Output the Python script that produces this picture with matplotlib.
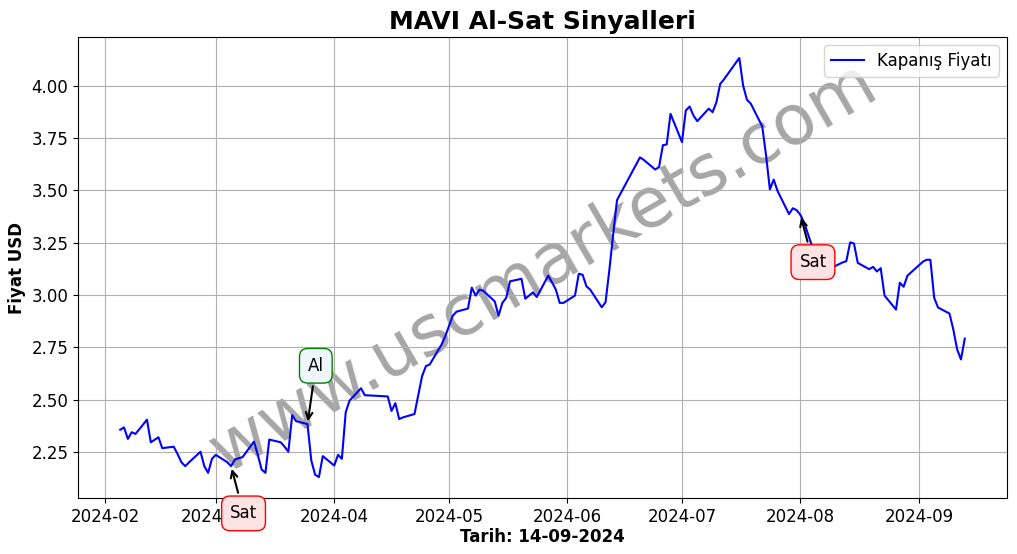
import matplotlib
matplotlib.use("Agg")
import matplotlib.pyplot as plt
import matplotlib.dates as mdates
import pandas as pd

dates = [
    "2024-02-05", "2024-02-06", "2024-02-07", "2024-02-08", "2024-02-09",
    "2024-02-12", "2024-02-13", "2024-02-14", "2024-02-15", "2024-02-16",
    "2024-02-19", "2024-02-20", "2024-02-21", "2024-02-22", "2024-02-23",
    "2024-02-26", "2024-02-27", "2024-02-28", "2024-02-29", "2024-03-01",
    "2024-03-04", "2024-03-05", "2024-03-06", "2024-03-07", "2024-03-08",
    "2024-03-11", "2024-03-12", "2024-03-13", "2024-03-14", "2024-03-15",
    "2024-03-18", "2024-03-19", "2024-03-20", "2024-03-21", "2024-03-22",
    "2024-03-25", "2024-03-26", "2024-03-27", "2024-03-28", "2024-03-29",
    "2024-04-01", "2024-04-02", "2024-04-03", "2024-04-04", "2024-04-05",
    "2024-04-08", "2024-04-09", "2024-04-15", "2024-04-16", "2024-04-17",
    "2024-04-18", "2024-04-19", "2024-04-22", "2024-04-24", "2024-04-25",
    "2024-04-26", "2024-04-29", "2024-04-30", "2024-05-02", "2024-05-03",
    "2024-05-06", "2024-05-07", "2024-05-08", "2024-05-09", "2024-05-10",
    "2024-05-13", "2024-05-14", "2024-05-15", "2024-05-16", "2024-05-17",
    "2024-05-20", "2024-05-21", "2024-05-22", "2024-05-23", "2024-05-24",
    "2024-05-27", "2024-05-28", "2024-05-29", "2024-05-30", "2024-05-31",
    "2024-06-03", "2024-06-04", "2024-06-05", "2024-06-06", "2024-06-07",
    "2024-06-10", "2024-06-11", "2024-06-12", "2024-06-13", "2024-06-14",
    "2024-06-20", "2024-06-21", "2024-06-24", "2024-06-25", "2024-06-26",
    "2024-06-27", "2024-06-28", "2024-07-01", "2024-07-02", "2024-07-03",
    "2024-07-04", "2024-07-05", "2024-07-08", "2024-07-09", "2024-07-10",
    "2024-07-11", "2024-07-12", "2024-07-16", "2024-07-17", "2024-07-18",
    "2024-07-19", "2024-07-22", "2024-07-23", "2024-07-24", "2024-07-25",
    "2024-07-26", "2024-07-29", "2024-07-30", "2024-07-31", "2024-08-01",
    "2024-08-02", "2024-08-05", "2024-08-06", "2024-08-07", "2024-08-08",
    "2024-08-09", "2024-08-12", "2024-08-13", "2024-08-14", "2024-08-15",
    "2024-08-16", "2024-08-19", "2024-08-20", "2024-08-21", "2024-08-22",
    "2024-08-23", "2024-08-26", "2024-08-27", "2024-08-28", "2024-08-29",
    "2024-09-02", "2024-09-03", "2024-09-04", "2024-09-05", "2024-09-06",
    "2024-09-09", "2024-09-10", "2024-09-11", "2024-09-12", "2024-09-13",
]

close = [
    2.356, 2.367, 2.312, 2.344, 2.336,
    2.404, 2.296, 2.308, 2.320, 2.268,
    2.275, 2.240, 2.201, 2.182, 2.200,
    2.251, 2.182, 2.150, 2.217, 2.236,
    2.201, 2.182, 2.213, 2.220, 2.225,
    2.299, 2.236, 2.166, 2.150, 2.309,
    2.296, 2.275, 2.251, 2.426, 2.397,
    2.383, 2.209, 2.141, 2.130, 2.230,
    2.185, 2.236, 2.217, 2.439, 2.495,
    2.554, 2.521, 2.515, 2.446, 2.483,
    2.407, 2.415, 2.431, 2.613, 2.660,
    2.668, 2.760, 2.800, 2.900, 2.920,
    2.935, 3.035, 2.997, 3.025, 3.020,
    2.969, 2.901, 2.962, 2.986, 3.065,
    3.077, 2.982, 2.997, 3.012, 2.990,
    3.092, 3.060, 3.025, 2.962, 2.962,
    2.997, 3.101, 3.096, 3.041, 3.025,
    2.941, 2.965, 3.120, 3.290, 3.453,
    3.657, 3.645, 3.599, 3.611, 3.715,
    3.719, 3.865, 3.730, 3.881, 3.900,
    3.857, 3.830, 3.890, 3.873, 3.920,
    4.008, 4.030, 4.132, 4.000, 3.932,
    3.914, 3.805, 3.667, 3.504, 3.551,
    3.497, 3.386, 3.414, 3.405, 3.382,
    3.344, 3.180, 3.160, 3.140, 3.130,
    3.128, 3.155, 3.161, 3.251, 3.246,
    3.153, 3.123, 3.134, 3.112, 3.128,
    2.997, 2.930, 3.058, 3.039, 3.092,
    3.158, 3.168, 3.168, 2.986, 2.940,
    2.911, 2.835, 2.740, 2.692, 2.791,
]

signal_dates = ["2024-03-05", "2024-03-25", "2024-08-01"]
signal_prices = [2.182, 2.383, 3.382]
signal_labels = ["Sat", "Al", "Sat"]

x = pd.to_datetime(dates)

fig = plt.figure(figsize=(10.17, 5.54), dpi=100)
ax = fig.add_axes([78 / 1017, 1 - 498 / 554, (1007 - 78) / 1017, (498 - 37) / 554])

ax.plot(x, close, color="blue", lw=1.5, label="Kapanış Fiyatı")

for d, p, lab in zip(signal_dates, signal_prices, signal_labels):
    if lab == "Al":
        off = (6, 42)
        bbox = dict(boxstyle="round,pad=0.5", fc="#eef6fc", ec="green")
    else:
        off = (9, -34)
        bbox = dict(boxstyle="round,pad=0.5", fc="#fde3e3", ec="red")
    ax.annotate(lab, xy=(pd.Timestamp(d), p), xytext=off, textcoords="offset points",
                ha="center", va="center", fontsize=12, bbox=bbox,
                arrowprops=dict(arrowstyle="->", color="black", lw=1.5),
                annotation_clip=False)

ax.text(0.5, 0.5, "www.uscmarkets.com", transform=ax.transAxes, fontsize=50,
        color="gray", alpha=0.7, rotation=30, ha="center", va="center", zorder=0)

ax.set_title("MAVI Al-Sat Sinyalleri", fontsize=18, fontweight="bold")
ax.set_xlabel("Tarih: 14-09-2024", fontsize=12, fontweight="bold", labelpad=2)
ax.set_ylabel("Fiyat USD", fontsize=12, fontweight="bold")
ax.xaxis.set_major_locator(mdates.MonthLocator())
ax.xaxis.set_major_formatter(mdates.DateFormatter("%Y-%m"))
ax.tick_params(labelsize=12)
ax.grid(True)
ax.legend(loc="upper right", fontsize=12)

fig.savefig("out.png", dpi=100)
